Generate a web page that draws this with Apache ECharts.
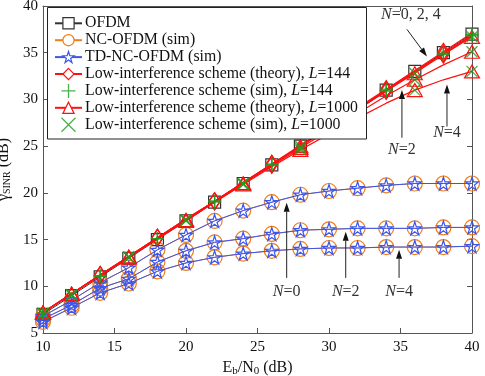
<!DOCTYPE html>
<html><head><meta charset="utf-8">
<script src="https://cdn.jsdelivr.net/npm/echarts@6/dist/echarts.min.js"></script>
<style>html,body{margin:0;padding:0;background:#fff}#c{width:485px;height:376px}</style>
</head><body><div id="c"></div>
<script>
const ebn0 = [10,12,14,16,18,20,22,24,26,28,30,32,34,36,38,40];
const ofdm = [7.0,9.0,11.0,13.0,15.0,17.0,19.0,21.0,23.0,25.0,27.0,29.0,31.0,33.0,35.0,37.0];
const ncN0 = [6.8,8.5,10.4,12.0,13.9,15.5,17.0,18.1,19.0,19.8,20.2,20.5,20.8,21.0,21.0,21.0];
const ncN2 = [6.5,8.0,9.8,10.8,12.6,13.8,14.7,15.1,15.6,16.0,16.1,16.2,16.2,16.2,16.3,16.3];
const ncN4 = [6.2,7.7,9.3,10.3,11.6,12.5,13.1,13.5,13.8,14.0,14.1,14.1,14.2,14.2,14.2,14.3];
const tdN0 = [6.8,8.5,10.4,12.0,13.9,15.5,17.0,18.1,19.0,19.8,20.2,20.5,20.8,21.0,21.0,21.0];
const tdN2 = [6.5,8.0,9.8,10.8,12.6,13.8,14.7,15.1,15.6,16.0,16.1,16.2,16.2,16.2,16.3,16.3];
const tdN4 = [6.2,7.7,9.3,10.3,11.6,12.5,13.1,13.5,13.8,14.0,14.1,14.1,14.2,14.2,14.2,14.3];
const th144N0 = [7.2,9.2,11.2,13.2,15.2,17.2,19.1,21.1,23.1,25.1,27.1,29.1,31.1,33.1,35.1,37.1];
const th144N2 = [7.2,9.2,11.2,13.2,15.2,17.2,19.1,21.1,23.1,25.0,27.0,29.0,31.0,33.0,34.9,36.9];
const th144N4 = [7.2,9.2,11.2,13.2,15.2,17.1,19.1,21.1,23.0,25.0,27.0,28.9,30.9,32.9,34.8,36.8];
const th1000N0 = [7.2,9.2,11.2,13.2,15.2,17.1,19.1,21.0,23.0,25.0,26.9,28.9,30.9,32.8,34.8,36.7];
const th1000N2 = [7.2,9.2,11.2,13.1,15.1,17.1,19.0,21.0,22.9,24.8,26.7,28.5,30.4,32.1,33.7,35.1];
const th1000N4 = [7.2,9.2,11.1,13.1,15.1,17.0,19.0,20.9,22.8,24.6,26.3,28.0,29.6,31.0,32.1,33.0];
const simX144 = [10,14,18,22,26,30,34,38,40];
const sim144N0 = [7.1,11.1,15.1,19.1,23.1,27.1,31.1,35.1,37.0];
const sim144N2 = [7.1,11.1,15.1,19.1,23.0,27.0,31.0,34.9,36.9];
const sim144N4 = [7.1,11.1,15.1,19.0,23.0,27.0,30.9,34.8,36.8];
const simX1000 = [10,12,16,20,24,28,32,36,40];
const sim1000N0 = [7.1,9.1,13.1,17.1,21.0,25.0,28.9,32.8,36.7];
const sim1000N2 = [7.1,9.1,13.1,17.1,21.0,24.8,28.5,32.1,35.1];
const sim1000N4 = [7.1,9.1,13.1,17.0,20.9,24.6,28.0,31.0,33.0];
const xTicks = [10,15,20,25,30,35,40];
const yTicks = [5,10,15,20,25,30,35,40];

const FONT = 'Liberation Serif';
const RED = '#ff1010', GREEN = '#1e9e1e', BLUE = '#3a55f0', ORANGE = '#ee7f1c', BLACK = '#333';
const CLEAR = 'rgba(0,0,0,0)';
const STAR = 'path://M50,0L61.8,36.2L100,36.2L69.1,58.8L80.9,95.1L50,72.7L19.1,95.1L30.9,58.8L0,36.2L38.2,36.2Z';
const PLUS = 'path://M5,0L5,10M0,5L10,5';
const CROSS = 'path://M0,0L10,10M10,0L0,10';

const N_OFDM='OFDM', N_NC='NC-OFDM (sim)', N_TD='TD-NC-OFDM (sim)',
  N_T144='Low-interference scheme (theory), L=144', N_S144='Low-interference scheme (sim), L=144',
  N_T1000='Low-interference scheme (theory), L=1000', N_S1000='Low-interference scheme (sim), L=1000';

function pairs(xs, ys){ return xs.map((x,i)=>[x, ys[i]]); }
function marked(xs, ys, at){ return xs.map((x,i)=> at.includes(x) ? {value:[x,ys[i]]} : {value:[x,ys[i]], symbol:'none'}); }

const series = [];
series.push({name:N_OFDM, type:'line', data:pairs(ebn0, ofdm), symbol:'rect', symbolSize:12,
  lineStyle:{color:BLACK,width:1}, itemStyle:{color:CLEAR, borderColor:BLACK, borderWidth:1.2}, z:2});
[ncN0,ncN2,ncN4].forEach(d=>series.push({name:N_NC, type:'line', data:pairs(ebn0,d), symbol:'circle', symbolSize:15,
  lineStyle:{color:ORANGE,width:1}, itemStyle:{color:CLEAR, borderColor:ORANGE, borderWidth:1.2}, z:3}));
[tdN0,tdN2,tdN4].forEach(d=>series.push({name:N_TD, type:'line', data:pairs(ebn0,d), symbol:STAR, symbolSize:13,
  lineStyle:{color:BLUE,width:1}, itemStyle:{color:CLEAR, borderColor:BLUE, borderWidth:1.2}, z:4}));
const at144 = [14,18,22,26,30,34,38];
[th144N0,th144N2,th144N4].forEach(d=>series.push({name:N_T144, type:'line', data:marked(ebn0,d,at144), symbol:'diamond', symbolSize:[11,17],
  lineStyle:{color:RED,width:1.2}, itemStyle:{color:CLEAR, borderColor:RED, borderWidth:1.2}, z:5}));
[sim144N0,sim144N2,sim144N4].forEach(d=>series.push({name:N_S144, type:'scatter', data:pairs(simX144,d), symbol:PLUS, symbolSize:13,
  itemStyle:{color:CLEAR, borderColor:GREEN, borderWidth:1.3}, z:7}));
const at1000 = [10,12,16,20,24,28,32,36,40];
[th1000N0,th1000N2,th1000N4].forEach(d=>series.push({name:N_T1000, type:'line', data:marked(ebn0,d,at1000), symbol:'triangle', symbolSize:[15,13],
  lineStyle:{color:RED,width:1.2}, itemStyle:{color:CLEAR, borderColor:RED, borderWidth:1.2}, z:6}));
[sim1000N0,sim1000N2,sim1000N4].forEach(d=>series.push({name:N_S1000, type:'scatter', data:pairs(simX1000,d), symbol:CROSS, symbolSize:11,
  itemStyle:{color:CLEAR, borderColor:GREEN, borderWidth:1.3}, z:7}));
series.forEach(s=>{ s.animation=false; s.emphasis={disabled:true}; s.xAxisIndex=0; s.yAxisIndex=0; });

const legendItems = [
  {name:N_OFDM, itemStyle:{color:'#fff', borderColor:BLACK, borderWidth:1.2}},
  {name:N_NC, itemStyle:{color:'#fff', borderColor:ORANGE, borderWidth:1.2}},
  {name:N_TD, itemStyle:{color:'#fff', borderColor:BLUE, borderWidth:1.2}},
  {name:N_T144, itemStyle:{color:'#fff', borderColor:RED, borderWidth:1.2}},
  {name:N_S144, itemStyle:{color:'#fff', borderColor:GREEN, borderWidth:1.3}},
  {name:N_T1000, itemStyle:{color:'#fff', borderColor:RED, borderWidth:1.2}},
  {name:N_S1000, itemStyle:{color:'#fff', borderColor:GREEN, borderWidth:1.3}}
];

const axisCommon = {
  axisLine:{show:true, onZero:false, lineStyle:{color:'#555', width:1}},
  axisTick:{show:true, inside:true, length:5, lineStyle:{color:'#555'}},
  splitLine:{show:false}
};
const chart = echarts.init(document.getElementById('c'), null, {renderer:'canvas'});
const LF = 15.8;
const option = {
  animation:false,
  backgroundColor:'#fff',
  grid:{left:43, right:13, top:6, bottom:43, containLabel:false, outerBoundsMode:'none'},
  xAxis:[
    Object.assign({type:'value', min:xTicks[0], max:xTicks[xTicks.length-1], interval:5, position:'bottom',
      axisLabel:{color:'#111', fontFamily:FONT, fontSize:15, margin:7},
      name:'{n|E}{s|b}{n|/N}{s|0}{n| (dB)}', nameLocation:'middle', nameGap:22,
      nameTextStyle:{rich:{n:{fontFamily:FONT, fontSize:16, color:'#111'}, s:{fontFamily:FONT, fontSize:11, color:'#111', padding:[6,0,0,0]}}}}, axisCommon),
    Object.assign({type:'value', min:10, max:40, interval:5, position:'top', axisLabel:{show:false}}, axisCommon)
  ],
  yAxis:[
    Object.assign({type:'value', min:yTicks[0], max:yTicks[yTicks.length-1], interval:5, position:'left',
      axisLabel:{color:'#111', fontFamily:FONT, fontSize:15, margin:5},
      name:'{n|γ}{s|SINR}{n| (dB)}', nameLocation:'middle', nameGap:24, nameRotate:90,
      nameTextStyle:{rich:{n:{fontFamily:FONT, fontSize:16, color:'#111'}, s:{fontFamily:FONT, fontSize:10, color:'#111', padding:[6,0,0,0]}}}}, axisCommon),
    Object.assign({type:'value', min:5, max:40, interval:5, position:'right', axisLabel:{show:false}}, axisCommon)
  ],
  legend:{
    z:50,
    orient:'vertical', left:47, top:8, padding:[7,4,4,7],
    backgroundColor:'rgba(0,0,0,0)', borderWidth:0,
    itemWidth:27, itemHeight:14, itemGap:0.3,
    data:legendItems,
    formatter: n => {
      const k = n.indexOf('L=');
      return k < 0 ? '{t|' + n + '}' : '{t|' + n.slice(0,k) + '}{i|L}{t|' + n.slice(k+1) + '}';
    },
    textStyle:{fontFamily:FONT, fontSize:LF, lineHeight:16.6, color:'#111', padding:[0,0,0,-2],
      rich:{t:{fontFamily:FONT, fontSize:LF, lineHeight:16.6, color:'#111'},
            i:{fontFamily:FONT, fontSize:LF, lineHeight:16.6, fontStyle:'italic', color:'#111'}}},
    selectedMode:false
  },
  series: series
};
chart.setOption(option);

// legend frame and annotations
const g = [{type:'rect', z:40, shape:{x:47.5, y:7.5, width:319, height:131.5},
  style:{fill:'#fff', stroke:'#222', lineWidth:1}}];
const labels = [
  {t:'{i|N}=0, 2, 4', x:35.73, y:39.08},
  {t:'{i|N}=2', x:35.1, y:24.6},
  {t:'{i|N}=4', x:38.25, y:26.4},
  {t:'{i|N}=0', x:27.04, y:9.4},
  {t:'{i|N}=2', x:31.17, y:9.4},
  {t:'{i|N}=4', x:34.9, y:9.4}
];
const arrows = [
  [[35.45,37.5],[36.85,34.6]],
  [[35.1,25.9],[35.1,31.0]],
  [[38.25,27.1],[38.25,31.6]],
  [[27.04,10.9],[27.04,18.95]],
  [[31.17,10.9],[31.17,15.85]],
  [[34.9,10.9],[34.9,13.9]]
];
const P = p => chart.convertToPixel({xAxisIndex:0, yAxisIndex:0}, p);
labels.forEach(l=>{
  const p = P([l.x,l.y]);
  g.push({type:'text', x:p[0], y:p[1], z:100, style:{text:l.t, fill:'#333', fontFamily:FONT, fontSize:16, align:'center', verticalAlign:'middle',
    rich:{i:{fontFamily:FONT, fontSize:16, fontStyle:'italic', fill:'#333'}}}});
});
arrows.forEach(a=>{
  const p0 = P(a[0]), p1 = P(a[1]);
  const dx = p1[0]-p0[0], dy = p1[1]-p0[1], L = Math.hypot(dx,dy), ux = dx/L, uy = dy/L;
  const hl = 9, hw = 3;
  const bx = p1[0]-ux*hl, by = p1[1]-uy*hl;
  g.push({type:'line', z:100, shape:{x1:p0[0], y1:p0[1], x2:bx, y2:by}, style:{stroke:'#222', lineWidth:1}});
  g.push({type:'polygon', z:100, shape:{points:[[p1[0],p1[1]],[bx-uy*hw, by+ux*hw],[bx+uy*hw, by-ux*hw]]}, style:{fill:'#111'}});
});
chart.setOption({graphic:g});
</script>
</body></html>
